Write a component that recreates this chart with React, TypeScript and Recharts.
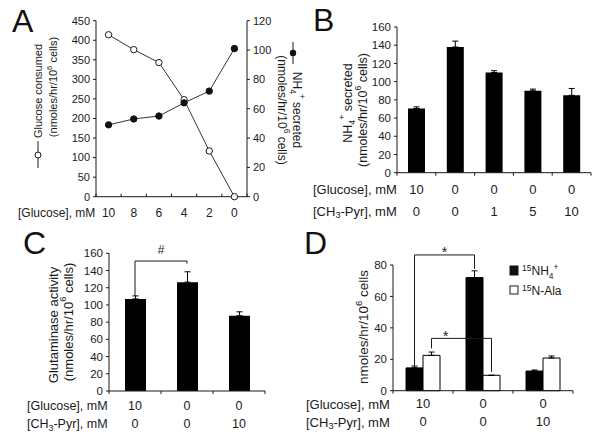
import React from "react";
import {
  LineChart,
  Line,
  BarChart,
  Bar,
  XAxis,
  YAxis,
  ErrorBar,
  ReferenceLine,
  ReferenceDot,
} from "recharts";

const FONT = "'Liberation Sans', Arial, sans-serif";
const INK = "#1a1a1a";

// panel A
const aGlucoseMM = [10, 8, 6, 4, 2, 0];
const aGlucoseUsed = [414, 376, 343, 248, 117, 0];
const aNh4Secreted = [49, 53, 55, 64, 72, 101];
const aLeftTicks = [0, 50, 100, 150, 200, 250, 300, 350, 400, 450];
const aRightTicks = [0, 20, 40, 60, 80, 100, 120];

// panel B
const bGlucoseMM = [10, 0, 0, 0, 0];
const bPyrMM = [0, 0, 1, 5, 10];
const bNh4 = [70.5, 138, 110, 90, 85];
const bNh4Err = [1.8, 6.5, 2, 1.8, 7.5];
const bcTicks = [0, 20, 40, 60, 80, 100, 120, 140, 160];

// panel C
const cGlucoseMM = [10, 0, 0];
const cPyrMM = [0, 0, 10];
const cActivity = [107, 126.5, 87.5];
const cActivityErr = [3.5, 12, 4.5];

// panel D
const dGlucoseMM = [10, 0, 0];
const dPyrMM = [0, 0, 10];
const d15Nh4 = [14.5, 72, 12.5];
const d15Nh4Err = [1.2, 4.3, 0.7];
const d15NAla = [22.5, 9.8, 20.8];
const d15NAlaErr = [2.1, 0, 1.3];
const dTicks = [0, 20, 40, 60, 80];

const aData = aGlucoseMM.map((conc, i) => ({
  conc,
  glucose: aGlucoseUsed[i],
  nh4: aNh4Secreted[i],
}));
// bars sit in the middle of unit-wide slots on a numeric axis
const bData = bNh4.map((v, i) => ({ x: i + 0.5, v, e: [0, bNh4Err[i]] }));
const cData = cActivity.map((v, i) => ({ x: i + 0.5, v, e: [0, cActivityErr[i]] }));
const dData = d15Nh4.map((v, i) => ({
  x: i + 0.5,
  nh4: v,
  nh4E: [0, d15Nh4Err[i]],
  ala: d15NAla[i],
  alaE: [0, d15NAlaErr[i]],
}));

const halfSteps = (n: number) => Array.from({ length: 2 * n + 1 }, (_, k) => k / 2);

const D_BAR = 17;
const D_BAND = 60;
const dOff = D_BAR / 2 / D_BAND;

function BandTick(props: any) {
  const { x, y, payload, rows, rowDy, fs } = props;
  const v = payload.value as number;
  if (Number.isInteger(v)) {
    return <line x1={x} x2={x} y1={y} y2={y + 3} stroke={INK} />;
  }
  const i = Math.floor(v);
  return (
    <g>
      {rows.map((r: number[], k: number) => (
        <text
          key={k}
          x={x}
          y={y + rowDy[k]}
          textAnchor="middle"
          dominantBaseline="central"
          fontSize={fs}
          fill={INK}
        >
          {r[i]}
        </text>
      ))}
    </g>
  );
}

function ConcTick(props: any) {
  const { x, y, payload } = props;
  const v = payload.value as number;
  if (v % 2 !== 0) {
    return <line x1={x} x2={x} y1={y} y2={y - 3} stroke={INK} />;
  }
  return (
    <text x={x} y={y + 16} textAnchor="middle" dominantBaseline="central" fontSize={12} fill={INK}>
      {v}
    </text>
  );
}

function Mark({ text, fs, dy }: { text: string; fs: number; dy: number }) {
  return (p: any) => (
    <text x={p.cx} y={p.cy + dy} textAnchor="middle" fontSize={fs} fill={INK}>
      {text}
    </text>
  );
}

const axisStyle = { stroke: INK };

function VText({ x, y, angle = -90, fs, children }: any) {
  return (
    <text
      transform={`translate(${x} ${y}) rotate(${angle})`}
      textAnchor="middle"
      dominantBaseline="central"
      fontSize={fs}
      fill={INK}
    >
      {children}
    </text>
  );
}

function Units({ fs, paren = true }: { fs: number; paren?: boolean }) {
  return (
    <>
      {paren ? "(" : ""}nmoles/hr/10
      <tspan dy={-fs * 0.38} fontSize={fs * 0.7}>6</tspan>
      <tspan dy={fs * 0.38}> cells{paren ? ")" : ""}</tspan>
    </>
  );
}

function Nh4({ fs, tail = "" }: { fs: number; tail?: string }) {
  return (
    <>
      NH
      <tspan dy={fs * 0.3} fontSize={fs * 0.7}>4</tspan>
      <tspan dy={-fs * 0.75} fontSize={fs * 0.7}>+</tspan>
      <tspan dy={fs * 0.45}>{tail}</tspan>
    </>
  );
}

function Pyr({ fs }: { fs: number }) {
  return (
    <>
      [CH
      <tspan dy={fs * 0.3} fontSize={fs * 0.7}>3</tspan>
      <tspan dy={-fs * 0.3}>-Pyr], mM</tspan>
    </>
  );
}

const layer: React.CSSProperties = { position: "absolute", left: 0, top: 0 };

function SlotAxis({ n, rows, rowDy, fs }: any) {
  return (
    <XAxis
      dataKey="x"
      type="number"
      domain={[0, n]}
      allowDataOverflow
      ticks={halfSteps(n)}
      interval={0}
      tickSize={0}
      tickMargin={0}
      tickLine={false}
      axisLine={axisStyle}
      height={40}
      tick={<BandTick rows={rows} rowDy={rowDy} fs={fs} />}
    />
  );
}

export default function App() {
  return (
    <div
      style={{
        position: "absolute",
        left: 0,
        top: 0,
        width: 600,
        height: 442,
        background: "#fff",
        fontFamily: FONT,
        overflow: "hidden",
      }}
    >
      {/* A */}
      <div style={layer}>
        <LineChart
          width={600}
          height={442}
          data={aData}
          margin={{ top: 20.7, left: 56, right: 313, bottom: 215.3 }}
        >
          <XAxis
            dataKey="conc"
            type="number"
            domain={[-1, 11]}
            reversed
            ticks={[11, 10, 9, 8, 7, 6, 5, 4, 3, 2, 1, 0, -1]}
            interval={0}
            tickSize={0}
            tickMargin={0}
            tickLine={false}
            axisLine={axisStyle}
            height={30}
            tick={<ConcTick />}
          />
          <YAxis
            yAxisId="g"
            domain={[0, 450]}
            ticks={aLeftTicks}
            interval={0}
            width={40}
            tickSize={3}
            tickMargin={3}
            axisLine={axisStyle}
            tickLine={axisStyle}
            tick={{ fontSize: 11, fill: INK }}
          />
          <YAxis
            yAxisId="n"
            orientation="right"
            domain={[0, 120]}
            ticks={aRightTicks}
            interval={0}
            width={40}
            tickSize={3}
            tickMargin={3}
            axisLine={axisStyle}
            tickLine={axisStyle}
            tick={{ fontSize: 11, fill: INK }}
          />
          <Line
            yAxisId="g"
            dataKey="glucose"
            stroke="#333"
            strokeWidth={1}
            dot={{ r: 3.2, fill: "#fff", stroke: INK, strokeWidth: 1 }}
            isAnimationActive={false}
          />
          <Line
            yAxisId="n"
            dataKey="nh4"
            stroke="#333"
            strokeWidth={1}
            dot={{ r: 3.2, fill: "#111", stroke: "#111", strokeWidth: 1 }}
            isAnimationActive={false}
          />
        </LineChart>
      </div>

      {/* B */}
      <div style={layer}>
        <BarChart
          width={600}
          height={442}
          data={bData}
          margin={{ top: 27, left: 357, right: 9, bottom: 229.3 }}
        >
          {SlotAxis({ n: 5, rows: [bGlucoseMM, bPyrMM], rowDy: [16.5, 38.5], fs: 13 })}
          <YAxis
            domain={[0, 160]}
            ticks={bcTicks}
            interval={0}
            width={40}
            tickSize={3}
            tickMargin={3}
            axisLine={axisStyle}
            tickLine={axisStyle}
            tick={{ fontSize: 11.5, fill: INK }}
          />
          <Bar dataKey="v" fill="#000" barSize={17} isAnimationActive={false}>
            <ErrorBar dataKey="e" width={3} stroke="#000" strokeWidth={1} isAnimationActive={false} />
          </Bar>
        </BarChart>
      </div>

      {/* C */}
      <div style={layer}>
        <BarChart
          width={600}
          height={442}
          data={cData}
          margin={{ top: 253.3, left: 69, right: 335, bottom: 11 }}
        >
          {SlotAxis({ n: 3, rows: [cGlucoseMM, cPyrMM], rowDy: [15, 33], fs: 12.5 })}
          <YAxis
            domain={[0, 160]}
            ticks={bcTicks}
            interval={0}
            width={40}
            tickSize={3}
            tickMargin={3}
            axisLine={axisStyle}
            tickLine={axisStyle}
            tick={{ fontSize: 11.5, fill: INK }}
          />
          <Bar dataKey="v" fill="#000" barSize={21} isAnimationActive={false}>
            <ErrorBar dataKey="e" width={3} stroke="#000" strokeWidth={1} isAnimationActive={false} />
          </Bar>
          <ReferenceLine ifOverflow="visible" stroke={INK}
            segment={[{ x: 0.5, y: 151 }, { x: 1.5, y: 151 }]} />
          <ReferenceLine ifOverflow="visible" stroke={INK}
            segment={[{ x: 0.5, y: 151 }, { x: 0.5, y: 110.5 }]} />
          <ReferenceLine ifOverflow="visible" stroke={INK}
            segment={[{ x: 1.5, y: 151 }, { x: 1.5, y: 148 }]} />
          <ReferenceDot x={1} y={151} r={0} ifOverflow="visible"
            shape={Mark({ text: "#", fs: 12, dy: -7 })} />
        </BarChart>
      </div>

      {/* D */}
      <div style={layer}>
        <BarChart
          width={600}
          height={442}
          data={dData}
          barGap={0}
          margin={{ top: 265, left: 353, right: 27, bottom: 11.3 }}
        >
          {SlotAxis({ n: 3, rows: [dGlucoseMM, dPyrMM], rowDy: [13, 31], fs: 13 })}
          <YAxis
            domain={[0, 80]}
            ticks={dTicks}
            interval={0}
            width={40}
            tickSize={3}
            tickMargin={3}
            axisLine={axisStyle}
            tickLine={axisStyle}
            tick={{ fontSize: 11.5, fill: INK }}
          />
          <Bar dataKey="nh4" fill="#000" stroke="#000" barSize={D_BAR} isAnimationActive={false}>
            <ErrorBar dataKey="nh4E" width={3} stroke="#000" strokeWidth={1} isAnimationActive={false} />
          </Bar>
          <Bar dataKey="ala" fill="#fff" stroke="#000" strokeWidth={1} barSize={D_BAR} isAnimationActive={false}>
            <ErrorBar dataKey="alaE" width={3} stroke="#000" strokeWidth={1} isAnimationActive={false} />
          </Bar>
          <ReferenceLine ifOverflow="visible" stroke={INK}
            segment={[{ x: 0.5 - dOff, y: 86.4 }, { x: 1.5 - dOff, y: 86.4 }]} />
          <ReferenceLine ifOverflow="visible" stroke={INK}
            segment={[{ x: 0.5 - dOff, y: 86.4 }, { x: 0.5 - dOff, y: 16 }]} />
          <ReferenceLine ifOverflow="visible" stroke={INK}
            segment={[{ x: 1.5 - dOff, y: 86.4 }, { x: 1.5 - dOff, y: 77.5 }]} />
          <ReferenceLine ifOverflow="visible" stroke={INK}
            segment={[{ x: 0.5 + dOff, y: 33.3 }, { x: 1.5 + dOff, y: 33.3 }]} />
          <ReferenceLine ifOverflow="visible" stroke={INK}
            segment={[{ x: 0.5 + dOff, y: 33.3 }, { x: 0.5 + dOff, y: 27 }]} />
          <ReferenceLine ifOverflow="visible" stroke={INK}
            segment={[{ x: 1.5 + dOff, y: 33.3 }, { x: 1.5 + dOff, y: 12 }]} />
          <ReferenceDot x={0.86} y={86.4} r={0} ifOverflow="visible"
            shape={Mark({ text: "*", fs: 14, dy: 2.5 })} />
          <ReferenceDot x={0.88} y={33.3} r={0} ifOverflow="visible"
            shape={Mark({ text: "*", fs: 14, dy: 2.5 })} />
        </BarChart>
      </div>

      {/* text overlay */}
      <svg width={600} height={442} style={{ ...layer, pointerEvents: "none" }} fontFamily={FONT}>
        <g fontSize={32} fill="#111">
          <text x={12} y={32}>A</text>
          <text x={313} y={31}>B</text>
          <text x={23} y={254}>C</text>
          <text x={304} y={254}>D</text>
        </g>

        {/* A titles */}
        <VText x={38} y={91} fs={11}>Glucose consumed</VText>
        <line x1={38} x2={38} y1={141} y2={168} stroke={INK} />
        <circle cx={38} cy={155} r={3} fill="#fff" stroke={INK} />
        <VText x={53} y={87} fs={11}><Units fs={11} /></VText>
        <line x1={293} x2={293} y1={42} y2={64} stroke={INK} />
        <circle cx={293} cy={53} r={3.2} fill="#111" />
        <VText x={297} y={110} angle={90} fs={12}><Nh4 fs={12} tail=" secreted" /></VText>
        <VText x={282} y={110} angle={90} fs={12}><Units fs={12} /></VText>
        <text x={18} y={213} fontSize={12} fill={INK} dominantBaseline="central">[Glucose], mM</text>

        {/* B titles */}
        <VText x={348} y={103} fs={12.5}><Nh4 fs={12.5} tail=" secreted" /></VText>
        <VText x={363} y={110} fs={12.5}><Units fs={12.5} /></VText>
        <text x={313} y={189} fontSize={13} fill={INK} dominantBaseline="central">[Glucose], mM</text>
        <text x={313} y={211} fontSize={13} fill={INK} dominantBaseline="central"><Pyr fs={13} /></text>

        {/* C titles */}
        <VText x={53} y={325} fs={13}>Glutaminase activity</VText>
        <VText x={68} y={322} fs={13}><Units fs={13} /></VText>
        <text x={27} y={406} fontSize={12.5} fill={INK} dominantBaseline="central">[Glucose], mM</text>
        <text x={27} y={424} fontSize={12.5} fill={INK} dominantBaseline="central"><Pyr fs={12.5} /></text>

        {/* D titles and legend */}
        <VText x={363} y={327} fs={13.5}><Units fs={13.5} paren={false} /></VText>
        <text x={306} y={404} fontSize={13} fill={INK} dominantBaseline="central">[Glucose], mM</text>
        <text x={306} y={422} fontSize={13} fill={INK} dominantBaseline="central"><Pyr fs={13} /></text>
        <rect x={510} y={266} width={8} height={9} fill="#111" stroke="#111" />
        <text x={522} y={275} fontSize={12} fill={INK}>
          <tspan dy={-4} fontSize={8.5}>15</tspan>
          <tspan dy={4}>NH</tspan>
          <tspan dy={3.5} fontSize={8.5}>4</tspan>
          <tspan dy={-9} fontSize={8.5}>+</tspan>
        </text>
        <rect x={510} y={286} width={8} height={8} fill="#fff" stroke={INK} />
        <text x={522} y={295} fontSize={12} fill={INK}>
          <tspan dy={-4} fontSize={8.5}>15</tspan>
          <tspan dy={4}>N-Ala</tspan>
        </text>
      </svg>
    </div>
  );
}
